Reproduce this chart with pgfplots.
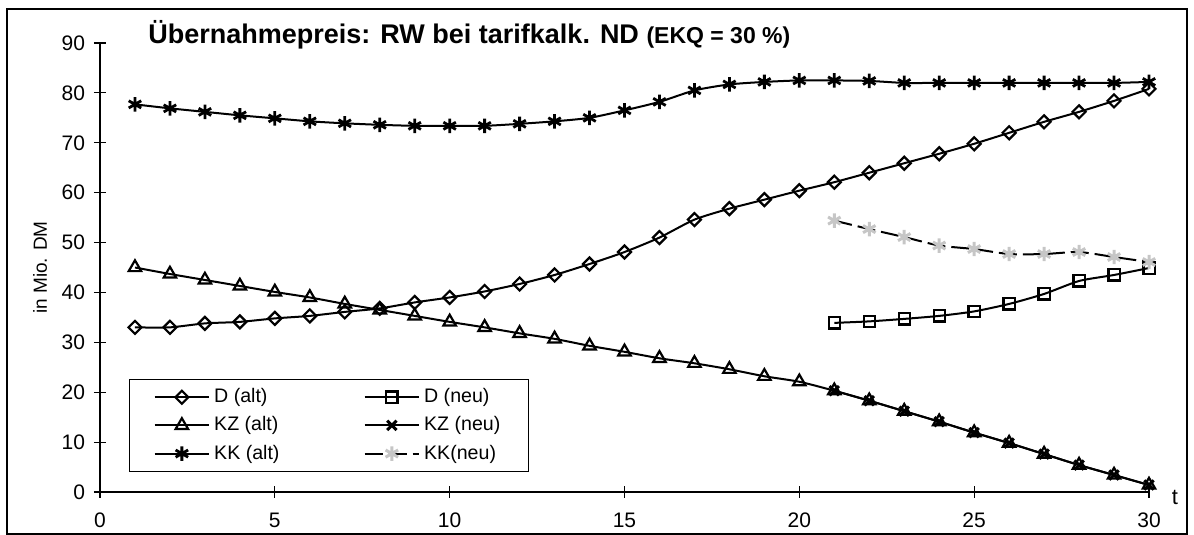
\documentclass[border=0pt]{standalone}
\usepackage{pgfplots}
\pgfplotsset{compat=1.18}
\usepackage{fontspec}
\setmainfont{Liberation Sans}
\begin{document}
\begin{tikzpicture}
\begin{axis}[
  scale only axis, width=524.5pt, height=224.5pt,
  xmin=0, xmax=30, ymin=0, ymax=90,
  axis x line=bottom, axis y line=left,
  axis line style={-, black, line width=0.6pt},
  xtick={0,5,...,30}, ytick={0,10,...,90},
  tick align=center, major tick length=6pt,
  tick style={black, line width=0.6pt},
  ticklabel style={font=\fontsize{10.5}{12}\selectfont},
  xticklabel style={yshift=-4pt},
  yticklabel style={xshift=-1pt},
  /pgf/number format/assume math mode=true,
  clip=false,
  ylabel={in Mio. DM},
  ylabel style={font=\fontsize{9.5}{11}\selectfont, at={(axis description cs:-0.0572,0.5)}, anchor=center},
  legend columns=2,
  legend cell align=left,
  legend style={at={(0.0276,0.2517)}, anchor=north west, draw=black, line width=0.6pt,
    font=\fontsize{9.8}{11.5}\selectfont, inner xsep=12pt, inner ysep=2.5pt, row sep=1.5pt,
    /tikz/column 2/.style={column sep=40pt}},
  legend image code/.code={\draw[mark repeat=2,mark phase=2] plot coordinates {(0cm,0cm) (0.48cm,0cm) (0.96cm,0cm)};},
  every axis plot/.append style={line width=1pt, smooth, tension=0.4},
]
% D (alt)
\addplot[black, mark=square, mark size=2.3pt, mark options={rotate=45, fill=white, solid, line width=1.1pt}] coordinates {
(1,33.0)(2,33.0)(3,33.8)(4,34.1)(5,34.8)(6,35.3)(7,36.1)(8,36.8)(9,38.0)(10,39.0)
(11,40.2)(12,41.7)(13,43.5)(14,45.7)(15,48.1)(16,51.0)(17,54.6)(18,56.8)(19,58.6)(20,60.4)
(21,62.1)(22,64.0)(23,65.9)(24,67.8)(25,69.8)(26,72.0)(27,74.2)(28,76.2)(29,78.4)(30,80.8)};
\addlegendentry{D (alt)}
% D (neu)
\addplot[black, mark=square, mark size=2.8pt, mark options={fill=white, solid, line width=1.1pt}] coordinates {
(21,33.9)(22,34.2)(23,34.7)(24,35.3)(25,36.2)(26,37.7)(27,39.7)(28,42.3)(29,43.5)(30,44.9)};
\addlegendentry{D (neu)}
% KZ (alt)
\addplot[black, mark=triangle, mark size=3.6pt, mark options={fill=white, solid, line width=1.1pt}] coordinates {
(1,45.0)(2,43.7)(3,42.5)(4,41.3)(5,40.1)(6,39.0)(7,37.7)(8,36.5)(9,35.3)(10,34.1)
(11,33.0)(12,31.8)(13,30.7)(14,29.3)(15,28.1)(16,26.8)(17,25.8)(18,24.6)(19,23.2)(20,22.1)
(21,20.3)(22,18.3)(23,16.2)(24,14.1)(25,11.9)(26,9.8)(27,7.6)(28,5.4)(29,3.4)(30,1.4)};
\addlegendentry{KZ (alt)}
% KZ (neu)
\addplot[black, mark=x, mark size=3.3pt, mark options={solid, line width=1.5pt}] coordinates {
(21,20.3)(22,18.3)(23,16.2)(24,14.1)(25,11.9)(26,9.8)(27,7.6)(28,5.4)(29,3.4)(30,1.4)};
\addlegendentry{KZ (neu)}
% KK (alt)
\addplot[black, mark=asterisk, mark size=3.6pt, mark options={solid, line width=1.4pt}] coordinates {
(1,77.7)(2,76.9)(3,76.2)(4,75.5)(5,74.9)(6,74.3)(7,73.9)(8,73.6)(9,73.4)(10,73.4)
(11,73.4)(12,73.8)(13,74.3)(14,75.0)(15,76.5)(16,78.2)(17,80.5)(18,81.7)(19,82.2)(20,82.5)
(21,82.5)(22,82.4)(23,82.0)(24,82.0)(25,82.0)(26,82.0)(27,82.0)(28,82.0)(29,82.0)(30,82.2)};
\addlegendentry{KK (alt)}
% KK (neu)
\addplot[black, dash pattern=on 9pt off 3pt, mark=asterisk, mark size=3.6pt, mark options={solid, gray!45, line width=1.5pt}] coordinates {
(21,54.4)(22,52.7)(23,51.1)(24,49.4)(25,48.7)(26,47.7)(27,47.7)(28,48.1)(29,47.1)(30,46.1)};
\addlegendentry{KK(neu)}
\end{axis}
\node[anchor=base west, inner sep=0pt, font=\bfseries\fontsize{13.5}{15}\selectfont] at (24pt,224pt)
  {Übernahmepreis: RW bei tarifkalk. ND {\fontsize{11.5}{13}\selectfont(EKQ = 30 \%)}};
\node[font=\fontsize{11}{12}\selectfont] at (537.5pt,-2.5pt) {t};
\draw[line width=0.8pt] (-46.5pt,-21pt) rectangle (543.5pt,241.5pt);
\pgfresetboundingbox
\path (-50pt,-21.5pt) rectangle (547pt,246pt);
\end{tikzpicture}
\end{document}
